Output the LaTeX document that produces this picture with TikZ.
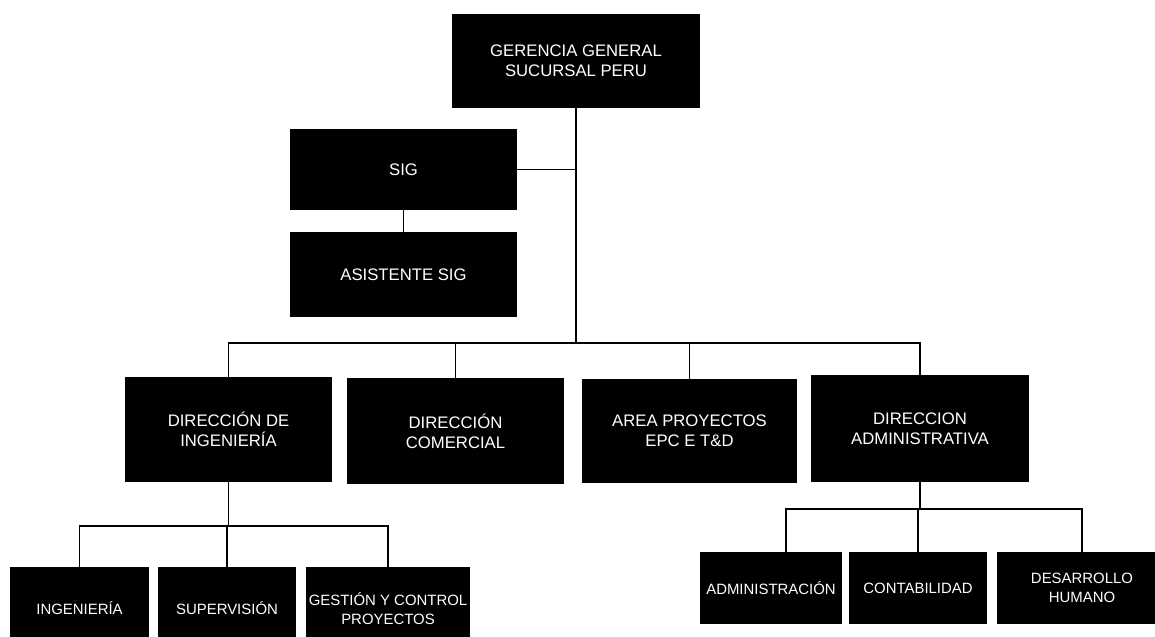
\documentclass[tikz,border=0pt]{standalone}
\usepackage{fontspec}
\setmainfont{Liberation Sans}
\tikzset{
  orgbox/.style={fill=black, text=white, align=center, inner sep=0pt,
    font=\fontsize{9.5}{11.4}\selectfont},
  subbox/.style={orgbox, font=\fontsize{8.5}{10.6}\selectfont},
  link/.style={line width=1pt}
}
\begin{document}
\begin{tikzpicture}[x=0.02cm, y=-0.02cm]
  \useasboundingbox (0,0) rectangle (1155,636);
  \clip (0,0) rectangle (1155,636);

  % Top management
  \node[orgbox, minimum width=4.96cm, minimum height=1.88cm] (gg) at (576,61) {GERENCIA GENERAL\\SUCURSAL PERU};

  % SIG staff
  \node[orgbox, minimum width=4.54cm, minimum height=1.62cm] (sig) at (403.5,169.5) {SIG};
  \node[orgbox, minimum width=4.54cm, minimum height=1.7cm] (asis) at (403.5,274.5) {ASISTENTE SIG};

  % Directions
  \node[orgbox, minimum width=4.14cm, minimum height=2.1cm] (ding) at (228.5,429.5) {DIRECCIÓN DE\\INGENIERÍA};
  \node[orgbox, minimum width=4.34cm, minimum height=2.12cm] (dcom) at (455.5,431) {DIRECCIÓN\\COMERCIAL};
  \node[orgbox, minimum width=4.3cm, minimum height=2.08cm] (area) at (689.5,431) {AREA PROYECTOS\\EPC E T\&D};
  \node[orgbox, minimum width=4.36cm, minimum height=2.14cm] (dadm) at (920,428.5) {DIRECCION\\ADMINISTRATIVA};

  % Engineering units
  \node[subbox, minimum width=2.78cm, minimum height=1.66cm] (ing) at (79.5,608.5) {INGENIERÍA};
  \node[subbox, minimum width=2.76cm, minimum height=1.66cm] (sup) at (227,608.5) {SUPERVISIÓN};
  \node[subbox, minimum width=3.28cm, minimum height=1.66cm] (gest) at (388,608.5) {GESTIÓN Y CONTROL\\PROYECTOS};

  % Administrative units
  \node[subbox, minimum width=2.84cm, minimum height=1.44cm] (adm) at (771,588) {ADMINISTRACIÓN};
  \node[subbox, minimum width=2.76cm, minimum height=1.44cm] (cont) at (918,588) {CONTABILIDAD};
  \node[subbox, minimum width=3.4cm, minimum height=1.44cm] (dh) at (1082,588) {DESARROLLO\\HUMANO};

  % Connectors
  \coordinate (bus) at (576,343);
  \coordinate (lbus) at (228.5,526);
  \coordinate (rbus) at (920,509);
  \draw[link] (gg.south) -- (bus);
  \draw[link] (sig.east) -- (sig.east -| gg.south);
  \draw[link] (sig.south) -- (asis.north);
  \draw[link] (ding.north) |- (bus) -| (dadm.north);
  \draw[link] (dcom.north) -- (dcom.north |- bus);
  \draw[link] (area.north) -- (area.north |- bus);
  \draw[link] (ding.south) -- (lbus);
  \draw[link] (ing.north) |- (lbus) -| (gest.north);
  \draw[link] (sup.north) -- (sup.north |- lbus);
  \draw[link] (dadm.south) -- (rbus);
  \draw[link] ([xshift=0.3cm]adm.north) |- (rbus) -| (dh.north);
  \draw[link] (cont.north) -- (cont.north |- rbus);
\end{tikzpicture}
\end{document}
